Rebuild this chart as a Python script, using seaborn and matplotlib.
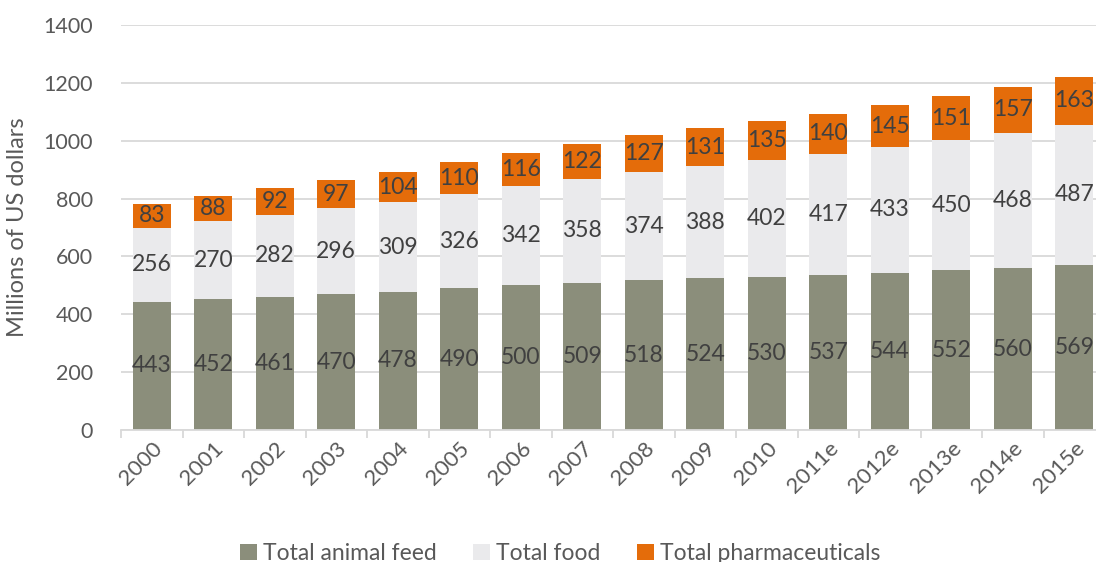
import numpy as np
import pandas as pd
import seaborn as sns
import matplotlib.pyplot as plt
from matplotlib.patches import Patch

years = ["2000", "2001", "2002", "2003", "2004", "2005", "2006", "2007",
         "2008", "2009", "2010", "2011e", "2012e", "2013e", "2014e", "2015e"]
animal_feed = [443, 452, 461, 470, 478, 490, 500, 509, 518, 524, 530, 537, 544, 552, 560, 569]
food = [256, 270, 282, 296, 309, 326, 342, 358, 374, 388, 402, 417, 433, 450, 468, 487]
pharma = [83, 88, 92, 97, 104, 110, 116, 122, 127, 131, 135, 140, 145, 151, 157, 163]

series_names = ["Total animal feed", "Total food", "Total pharmaceuticals"]
colors = ["#8B8E7B", "#EAEAEC", "#E46C0A"]

sns.set_theme(style="white")
plt.rcParams['font.family'] = ['Lato', 'DejaVu Sans']

fig = plt.figure(figsize=(10.96, 5.62), dpi=100)
ax = fig.add_axes([121 / 1096, (562 - 430) / 562, 984 / 1096, 405 / 562])

df = pd.DataFrame({"year": years, "feed": animal_feed, "food": food, "pharma": pharma})
df["food_top"] = df["feed"] + df["food"]
df["total"] = df["food_top"] + df["pharma"]

# draw from the top down so each layer covers the one above it
for col, c in zip(["total", "food_top", "feed"], colors[::-1]):
    sns.barplot(data=df, x="year", y=col, color=c, width=0.62, ax=ax,
                saturation=1, edgecolor="none")

bottoms = [np.zeros(len(years)), np.array(animal_feed), df["food_top"].values]
for vals, bot in zip([animal_feed, food, pharma], bottoms):
    for i, (v, b) in enumerate(zip(vals, bot)):
        ax.text(i, b + v / 2, str(v), ha="center", va="center",
                fontsize=16.5, color="#404040")

ax.set_ylim(0, 1400)
ax.set_yticks(range(0, 1401, 200))
ax.set_xlim(-0.5, len(years) - 0.5)
ax.yaxis.grid(True, color="#D9D9D9", linewidth=1.3)
ax.set_axisbelow(True)
for s in ["top", "right", "left"]:
    ax.spines[s].set_visible(False)
ax.spines["bottom"].set_color("#D9D9D9")
ax.spines["bottom"].set_linewidth(1.3)

ax.set_xticks(np.arange(len(years) + 1) - 0.5, minor=True)
ax.tick_params(axis="x", which="minor", length=6, color="#D9D9D9", width=1.3, bottom=True)
ax.tick_params(axis="x", which="major", length=0, pad=6)
ax.tick_params(axis="y", length=0, pad=20)
ax.set_xticks(range(len(years)))
ax.set_xticklabels(years, rotation=45, ha="right", rotation_mode="anchor",
                   fontsize=16, color="#595959")
for t in ax.get_yticklabels():
    t.set_fontsize(15.5)
    t.set_color("#595959")

ax.set_xlabel("")
ax.set_ylabel("Millions of US dollars", fontsize=17, color="#595959")
ax.yaxis.set_label_coords(-0.095, 0.5)

handles = [Patch(facecolor=c, edgecolor="none") for c in colors]
fig.legend(handles, series_names, loc="center", bbox_to_anchor=(0.511, 0.015),
           ncol=3, frameon=False, fontsize=16.5, handlelength=0.75, handleheight=0.75,
           handletextpad=0.25, columnspacing=1.6, labelcolor="#595959")

fig.savefig("out.png", dpi=100)
